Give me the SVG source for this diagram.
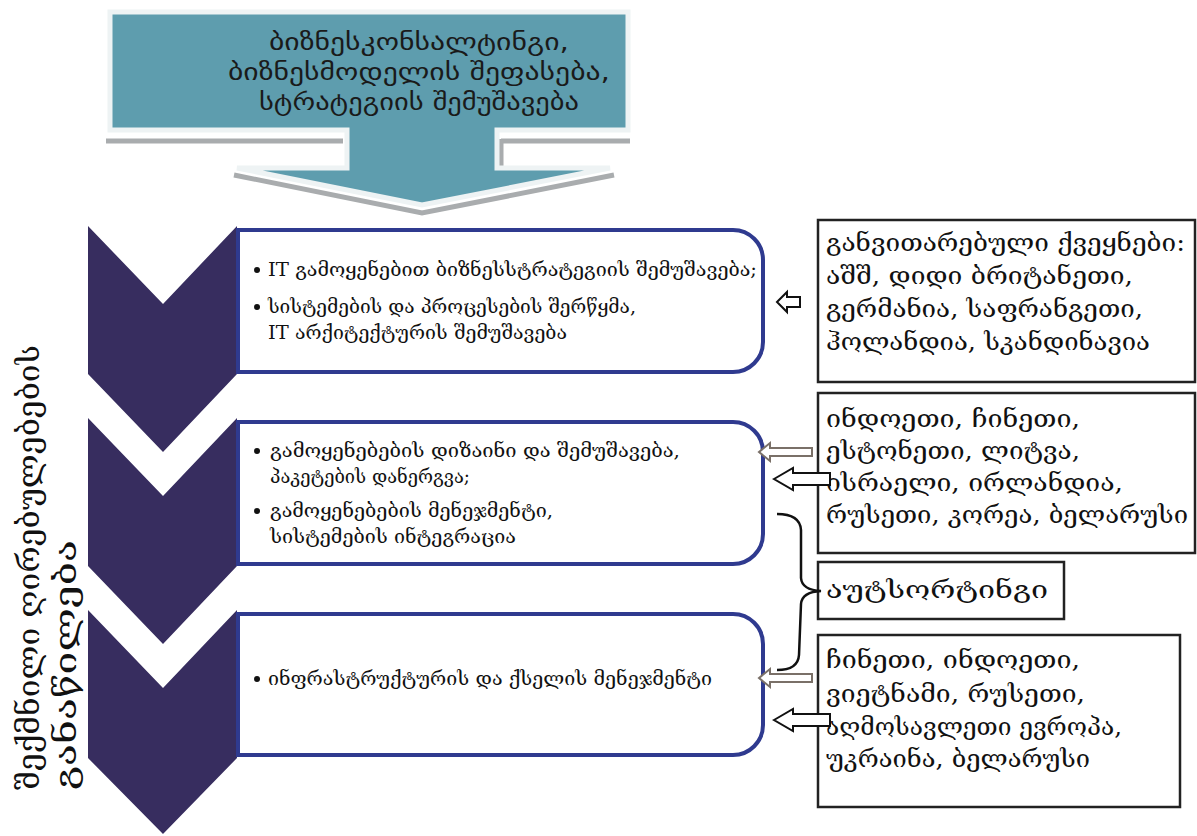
<svg xmlns="http://www.w3.org/2000/svg" width="1197" height="836" viewBox="0 0 1197 836">
<style>
.chev{fill:#372d5f}
.box{fill:#ffffff;stroke:#2f3a8f;stroke-width:4}
.rbox{fill:#ffffff;stroke:#222222;stroke-width:2.5}
.t{font-family:"DejaVu Serif","DejaVu Sans",serif;fill:#111111}
.bt{font-size:19px}
.rt{font-size:25px}
.ban{font-family:"DejaVu Sans",sans-serif;font-size:24px;fill:#1a1a1a}
.side{font-size:30px}
.bul{fill:#111111}
.ga{fill:#ffffff;stroke:#7a7068;stroke-width:2}
.ba{fill:#ffffff;stroke:#111111;stroke-width:2}
</style>
<rect width="1197" height="836" fill="#ffffff"/>
<g id="banner">
<path d="M106,141 H343 M501,139 V166 M501,141 H630 M234,175 L422,213 L614,175" fill="none" stroke="#a9acae" stroke-width="5"/>
<path d="M110,12 H628 V130 H497 V168 H610 L422,205 L237,168 H347 V130 H110 Z" fill="#5e9dae" stroke="#eef3f4" stroke-width="5"/>
<text class="ban" x="419" y="50" text-anchor="middle" textLength="300" lengthAdjust="spacingAndGlyphs">ბიზნესკონსალტინგი,</text>
<text class="ban" x="419" y="80" text-anchor="middle" textLength="382" lengthAdjust="spacingAndGlyphs">ბიზნესმოდელის შეფასება,</text>
<text class="ban" x="419" y="110" text-anchor="middle" textLength="320" lengthAdjust="spacingAndGlyphs">სტრატეგიის შემუშავება</text>
</g>
<g id="side-label">
<text class="t side" transform="translate(39,790) rotate(-90)" textLength="445" lengthAdjust="spacingAndGlyphs">შექმნილი ღირებულებების</text>
<text class="t side" transform="translate(76,790) rotate(-90)" textLength="250" lengthAdjust="spacingAndGlyphs">განაწილება</text>
</g>
<g id="chevron1"><path class="chev" d="M88,226 L163,304 L237,226 L237,374 L163,452 L88,374 Z"/></g>
<g id="chevron2"><path class="chev" d="M88,418 L163,496 L237,418 L237,566 L163,644 L88,566 Z"/></g>
<g id="chevron3"><path class="chev" d="M88,610 L163,688 L237,610 L237,758 L163,834 L88,758 Z"/></g>
<g id="box1">
<path class="box" d="M238,230 H733 A30,30 0 0 1 763,260 V342 A30,30 0 0 1 733,372 H238 Z"/>
<circle class="bul" cx="257" cy="270" r="3"/>
<circle class="bul" cx="257" cy="307" r="3"/>
<text class="t bt" x="268" y="276" textLength="489" lengthAdjust="spacingAndGlyphs">IT გამოყენებით ბიზნესსტრატეგიის შემუშავება;</text>
<text class="t bt" x="268" y="313" textLength="368" lengthAdjust="spacingAndGlyphs">სისტემების და პროცესების შერწყმა,</text>
<text class="t bt" x="268" y="339" textLength="299" lengthAdjust="spacingAndGlyphs">IT არქიტექტურის შემუშავება</text>
</g>
<g id="box2">
<path class="box" d="M238,422 H733 A30,30 0 0 1 763,452 V534 A30,30 0 0 1 733,564 H238 Z"/>
<circle class="bul" cx="257" cy="451" r="3"/>
<circle class="bul" cx="257" cy="511" r="3"/>
<text class="t bt" x="270" y="457" textLength="410" lengthAdjust="spacingAndGlyphs">გამოყენებების დიზაინი და შემუშავება,</text>
<text class="t bt" x="270" y="483" textLength="200" lengthAdjust="spacingAndGlyphs">პაკეტების დანერგვა;</text>
<text class="t bt" x="270" y="517" textLength="283" lengthAdjust="spacingAndGlyphs">გამოყენებების მენეჯმენტი,</text>
<text class="t bt" x="270" y="543" textLength="246" lengthAdjust="spacingAndGlyphs">სისტემების ინტეგრაცია</text>
</g>
<g id="box3">
<path class="box" d="M238,614 H733 A30,30 0 0 1 763,644 V725 A30,30 0 0 1 733,755 H238 Z"/>
<circle class="bul" cx="257" cy="679" r="3"/>
<text class="t bt" x="268" y="685" textLength="444" lengthAdjust="spacingAndGlyphs">ინფრასტრუქტურის და ქსელის მენეჯმენტი</text>
</g>
<g id="developed">
<rect class="rbox" x="818" y="220" width="377" height="162"/>
<text class="t rt" x="826" y="251" textLength="359" lengthAdjust="spacingAndGlyphs">განვითარებული ქვეყნები:</text>
<text class="t rt" x="826" y="284" textLength="307" lengthAdjust="spacingAndGlyphs">აშშ, დიდი ბრიტანეთი,</text>
<text class="t rt" x="826" y="317" textLength="317" lengthAdjust="spacingAndGlyphs">გერმანია, საფრანგეთი,</text>
<text class="t rt" x="826" y="350" textLength="324" lengthAdjust="spacingAndGlyphs">ჰოლანდია, სკანდინავია</text>
</g>
<g id="countries2">
<rect class="rbox" x="818" y="393" width="377" height="160"/>
<text class="t rt" x="826" y="427" textLength="254" lengthAdjust="spacingAndGlyphs">ინდოეთი, ჩინეთი,</text>
<text class="t rt" x="826" y="459" textLength="254" lengthAdjust="spacingAndGlyphs">ესტონეთი, ლიტვა,</text>
<text class="t rt" x="826" y="491" textLength="297" lengthAdjust="spacingAndGlyphs">ისრაელი, ირლანდია,</text>
<text class="t rt" x="826" y="523" textLength="362" lengthAdjust="spacingAndGlyphs">რუსეთი, კორეა, ბელარუსი</text>
</g>
<g id="outsourcing">
<rect class="rbox" x="818" y="562" width="246" height="57"/>
<text class="t rt" x="826" y="598" textLength="222" lengthAdjust="spacingAndGlyphs">აუტსორტინგი</text>
</g>
<g id="countries3">
<rect class="rbox" x="818" y="635" width="362" height="172"/>
<text class="t rt" x="826" y="668" textLength="254" lengthAdjust="spacingAndGlyphs">ჩინეთი, ინდოეთი,</text>
<text class="t rt" x="826" y="702" textLength="259" lengthAdjust="spacingAndGlyphs">ვიეტნამი, რუსეთი,</text>
<text class="t rt" x="826" y="735" textLength="296" lengthAdjust="spacingAndGlyphs">აღმოსავლეთი ევროპა,</text>
<text class="t rt" x="826" y="767" textLength="264" lengthAdjust="spacingAndGlyphs">უკრაინა, ბელარუსი</text>
</g>
<g id="connectors">
<path class="ba" stroke-width="2.5" d="M777,302 L787,292 L787,297 L800,297 L800,307 L787,307 L787,312 Z"/>
<path class="ga" d="M759,452 L770,443 L770,448 L812,448 L812,456 L770,456 L770,461 Z"/>
<path class="ba" d="M774,479 L793,468 L793,473 L830,473 L830,485 L793,485 L793,490 Z"/>
<path d="M777,514 Q800,514 801,530 L801,578 Q802,590 821,591 Q802,592 801,604 L799,655 Q798,670 777,670" fill="none" stroke="#111111" stroke-width="2.5"/>
<path class="ga" d="M759,678 L770,669 L770,674 L812,674 L812,682 L770,682 L770,687 Z"/>
<path class="ba" d="M774,720 L793,709 L793,714 L830,714 L830,726 L793,726 L793,731 Z"/>
</g>
</svg>
